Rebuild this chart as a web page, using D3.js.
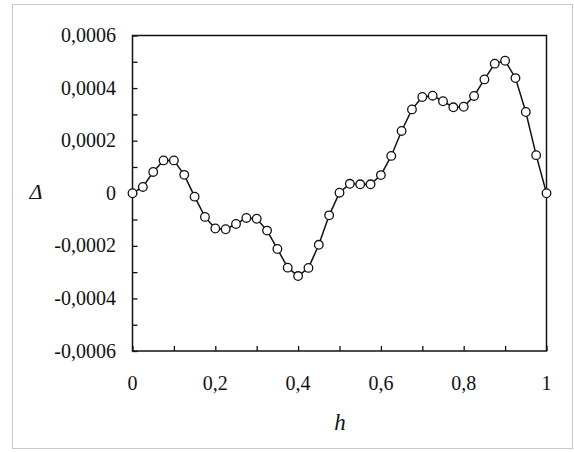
<!DOCTYPE html>
<html><head><meta charset="utf-8">
<script src="https://cdn.jsdelivr.net/npm/d3@7"></script>
<style>body{margin:0;background:#fff}svg{display:block}</style>
</head><body>
<svg id="c" width="574" height="452"></svg>
<script>
const hValues = [0,0.025,0.05,0.075,0.1,0.125,0.15,0.175,0.2,0.225,0.25,0.275,0.3,0.325,0.35,0.375,0.4,0.425,0.45,0.475,0.5,0.525,0.55,0.575,0.6,0.625,0.65,0.675,0.7,0.725,0.75,0.775,0.8,0.825,0.85,0.875,0.9,0.925,0.95,0.975,1];
const deltaValues = [0,0.000024,0.000081,0.000125,0.000125,0.00007,-0.000013,-0.00009,-0.000134,-0.000137,-0.000117,-0.000094,-0.000097,-0.000142,-0.000212,-0.000283,-0.000315,-0.000284,-0.000196,-0.000084,0.000002,0.000036,0.000034,0.000034,0.000069,0.000142,0.000237,0.000319,0.000366,0.000371,0.00035,0.000327,0.000329,0.00037,0.000433,0.000493,0.000504,0.000438,0.000309,0.000145,0];
const xTicks = [0,0.2,0.4,0.6,0.8,1];
const xMinorTicks = [0.1,0.3,0.5,0.7,0.9];
const yTicks = [-0.0006,-0.0004,-0.0002,0,0.0002,0.0004,0.0006];
const yMinorTicks = [-0.0005,-0.0003,-0.0001,0.0001,0.0003,0.0005];
const xLabel = "h", yLabel = "Δ";

const svg = d3.select("#c");
const L = 132.5, R = 546.5, T = 35.5, B = 351;
const x = d3.scaleLinear().domain([0,1]).range([L,R]);
const y = d3.scaleLinear().domain([-0.0006,0.0006]).range([B,T]);
const fmt = v => v === 0 ? "0" : d3.format(".4f")(v).replace(".", ",").replace("\u2212", "-");
const fmtX = v => v === 0 ? "0" : (v === 1 ? "1" : String(v).replace(".", ","));
const FONT = '"Liberation Serif"';

svg.append("rect").attr("x",12.5).attr("y",4.5).attr("width",560).attr("height",444)
  .attr("fill","none").attr("stroke","#c8c8c8").attr("stroke-width",1);

// axes
const gx = svg.append("g").attr("transform",`translate(0,${B})`)
  .call(d3.axisBottom(x).tickValues(xTicks.concat(xMinorTicks)).tickSizeInner(-5).tickSizeOuter(0).tickFormat(""));
const gy = svg.append("g").attr("transform",`translate(${L},0)`)
  .call(d3.axisLeft(y).tickValues(yTicks.concat(yMinorTicks)).tickSizeInner(-5).tickSizeOuter(0).tickFormat(""));
[gx,gy].forEach(g=>{g.select(".domain").remove(); g.selectAll("line").attr("stroke","#111").attr("stroke-width",1.3);});

svg.append("rect").attr("x",L).attr("y",T).attr("width",R-L).attr("height",B-T)
  .attr("fill","none").attr("stroke","#111").attr("stroke-width",1.5);

svg.append("g").selectAll("text").data(yTicks).join("text")
  .attr("x",116).attr("y",d=>y(d)).attr("dy","0.33em").attr("text-anchor","end")
  .style("font-family",FONT).style("font-size","20px").attr("fill","#111").text(fmt);
svg.append("g").selectAll("text").data(xTicks).join("text")
  .attr("x",d=>x(d)).attr("y",383).attr("dy","0.33em").attr("text-anchor","middle")
  .style("font-family",FONT).style("font-size","20px").attr("fill","#111").text(fmtX);

svg.append("text").attr("x",340).attr("y",422).attr("dy","0.33em").attr("text-anchor","middle")
  .style("font-family",FONT).style("font-style","italic").style("font-size","23px").attr("fill","#111").text(xLabel);
svg.append("text").attr("x",36).attr("y",192).attr("dy","0.33em").attr("text-anchor","middle")
  .style("font-family",FONT).style("font-style","italic").style("font-size","22px").attr("fill","#111").text(yLabel);

const pts = hValues.map((h,i)=>[h,deltaValues[i]]);
svg.append("path").datum(pts)
  .attr("d", d3.line().x(d=>x(d[0])).y(d=>y(d[1])))
  .attr("fill","none").attr("stroke","#111").attr("stroke-width",1.5);
svg.append("g").selectAll("circle").data(pts).join("circle")
  .attr("cx",d=>x(d[0])).attr("cy",d=>y(d[1])).attr("r",4.3)
  .attr("fill","#fff").attr("stroke","#111").attr("stroke-width",1.3);
</script>
</body></html>
